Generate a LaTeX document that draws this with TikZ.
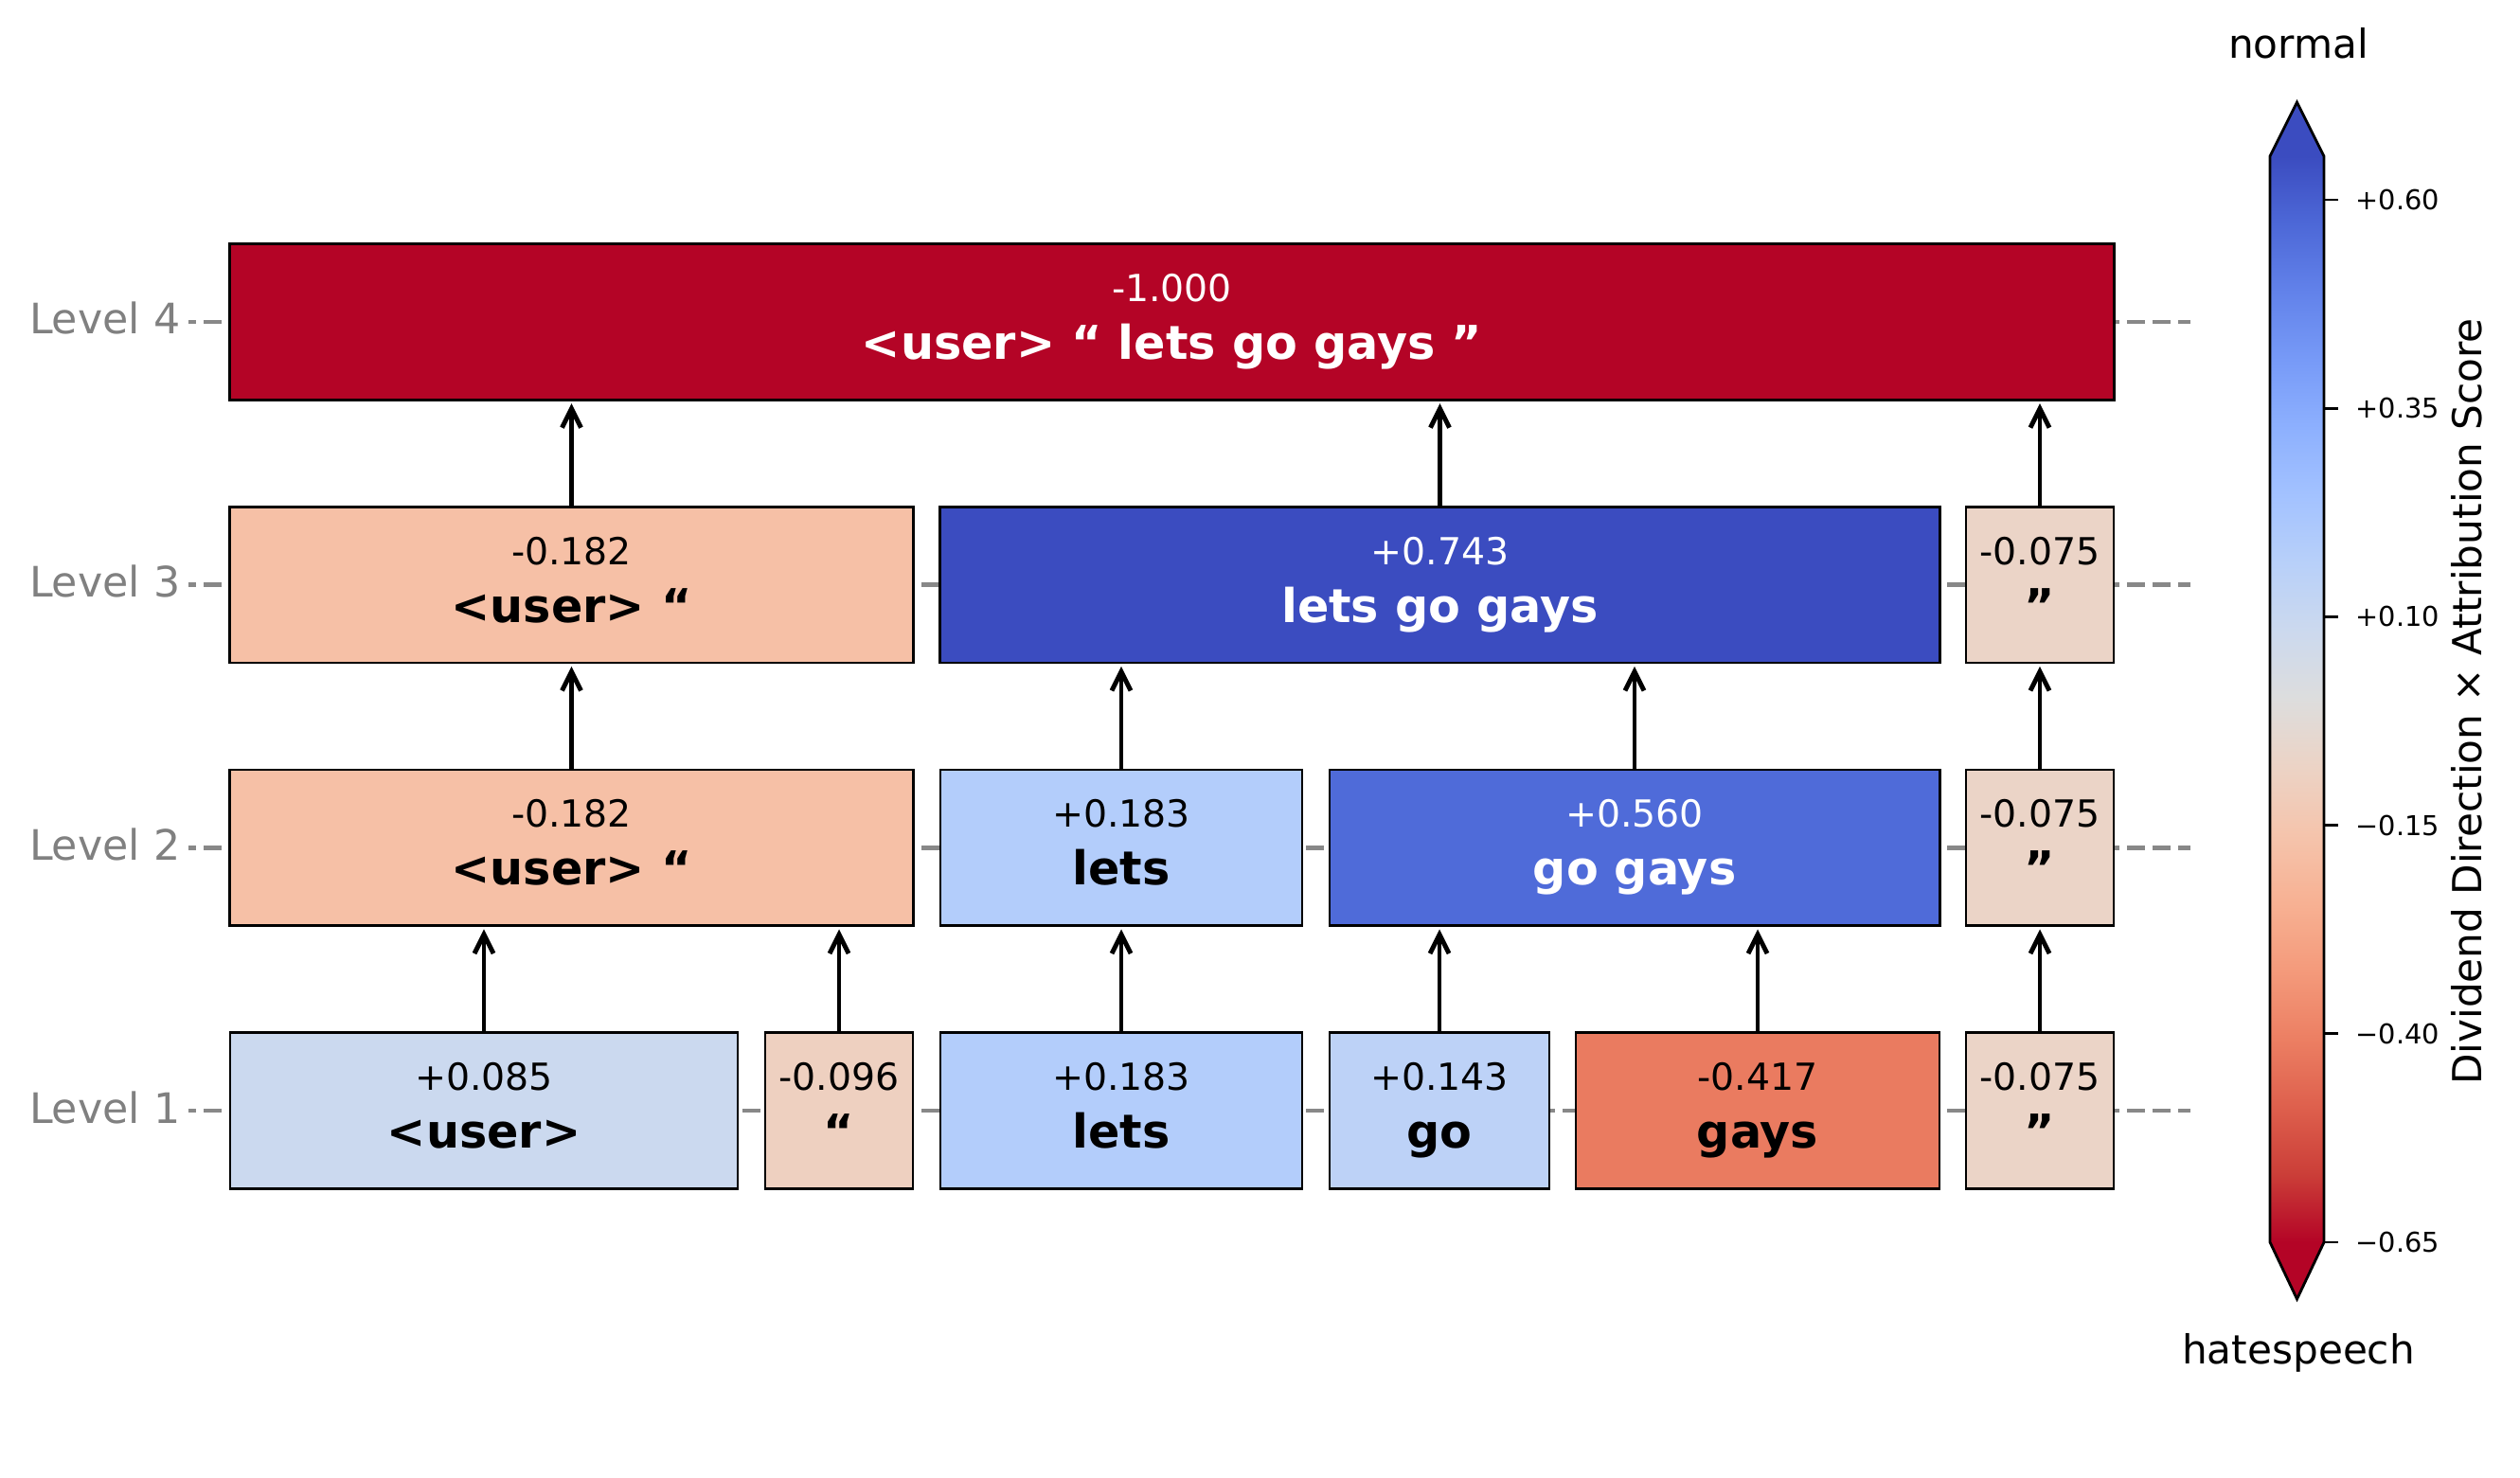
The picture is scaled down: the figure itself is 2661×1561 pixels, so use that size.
\documentclass[tikz,border=0pt]{standalone}
\usepackage{fontspec}
\setmainfont{DejaVu Sans}
\usetikzlibrary{arrows.meta}

\definecolor{lvlgray}{RGB}{128,128,128}
\definecolor{dashgray}{RGB}{136,136,136}
% box colours
\definecolor{cwuser}{RGB}{203,217,239}
\definecolor{cwlq}{RGB}{238,208,192}
\definecolor{cwlets}{RGB}{179,205,251}
\definecolor{cwgo}{RGB}{189,210,247}
\definecolor{cwgays}{RGB}{234,123,96}
\definecolor{cwrq}{RGB}{235,212,199}
\definecolor{cwuserlq}{RGB}{246,192,166}
\definecolor{cwgogays}{RGB}{79,107,217}
\definecolor{cwblue}{RGB}{59,76,192}
\definecolor{cwred}{RGB}{180,4,38}
% colour bar stops, bottom to top
\definecolor{cbar0}{RGB}{180,4,38}
\definecolor{cbar1}{RGB}{203,62,56}
\definecolor{cbar2}{RGB}{222,96,77}
\definecolor{cbar3}{RGB}{236,127,99}
\definecolor{cbar4}{RGB}{244,154,123}
\definecolor{cbar5}{RGB}{247,177,147}
\definecolor{cbar6}{RGB}{245,196,172}
\definecolor{cbar7}{RGB}{236,211,197}
\definecolor{cbar8}{RGB}{221,221,221}
\definecolor{cbar9}{RGB}{204,217,238}
\definecolor{cbar10}{RGB}{184,208,249}
\definecolor{cbar11}{RGB}{163,194,255}
\definecolor{cbar12}{RGB}{141,176,254}
\definecolor{cbar13}{RGB}{119,154,247}
\definecolor{cbar14}{RGB}{98,130,234}
\definecolor{cbar15}{RGB}{77,104,215}
\definecolor{cbar16}{RGB}{59,76,192}

\pgfdeclareverticalshading{cwbar}{100bp}{color(0bp)=(cbar0); color(25bp)=(cbar0);
  color(28.125bp)=(cbar1); color(31.25bp)=(cbar2); color(34.375bp)=(cbar3);
  color(37.5bp)=(cbar4); color(40.625bp)=(cbar5); color(43.75bp)=(cbar6);
  color(46.875bp)=(cbar7); color(50bp)=(cbar8); color(53.125bp)=(cbar9);
  color(56.25bp)=(cbar10); color(59.375bp)=(cbar11); color(62.5bp)=(cbar12);
  color(65.625bp)=(cbar13); color(68.75bp)=(cbar14); color(71.875bp)=(cbar15);
  color(75bp)=(cbar16); color(100bp)=(cbar16)}

\begin{document}
\begin{tikzpicture}[x=0.01cm, y=-0.01cm,
    tokbox/.style={draw=black, line width=0.75pt, inner sep=0pt, outer sep=0pt, minimum height=1.645cm},
    valtxt/.style={font=\fontsize{11.2}{13}\selectfont, anchor=base, inner sep=0pt},
    toktxt/.style={font=\fontsize{14}{17}\selectfont\bfseries, anchor=base, inner sep=0pt},
    lvltxt/.style={font=\fontsize{12.6}{15}\selectfont, text=lvlgray, anchor=base east, inner sep=0pt},
    lvlline/.style={draw=dashgray, line width=1.3pt, dash pattern=on 5.4pt off 2.3pt},
    uparr/.style={-{Straight Barb[length=5.7pt,width=5.7pt]}, line width=1.4pt, shorten >=1.1pt},
    cbtxt/.style={font=\fontsize{8.2}{10}\selectfont, anchor=west, inner sep=0pt}]

  \useasboundingbox (0,0) rectangle (2661,1561);

  % level rows
  \foreach \lv/\yy in {1/1173, 2/895.3, 3/617.7, 4/340} {
    \node[lvltxt] (lvl\lv) at (191,\yy+13) {Level \lv};
    \draw[draw=dashgray, line width=1.3pt] (199,\yy) -- (207,\yy);
    \draw[lvlline] (215,\yy) -- (2313,\yy);
  }

  % boxes
  \foreach \nm/\cx/\cy/\bw/\col/\tc/\val/\tok in {
      l1user/511/1173/5.36/cwuser/black/+0.085/<user>,
      l1lq/886/1173/1.56/cwlq/black/-0.096/“,
      l1lets/1184/1173/3.82/cwlets/black/+0.183/lets,
      l1go/1520/1173/2.32/cwgo/black/+0.143/go,
      l1gays/1856/1173/3.84/cwgays/black/-0.417/gays,
      l1rq/2154/1173/1.56/cwrq/black/-0.075/”,
      l2userlq/603.5/895.3/7.21/cwuserlq/black/-0.182/<user> “,
      l2lets/1184/895.3/3.82/cwlets/black/+0.183/lets,
      l2gogays/1726/895.3/6.44/cwgogays/white/+0.560/go gays,
      l2rq/2154/895.3/1.56/cwrq/black/-0.075/”,
      l3userlq/603.5/617.7/7.21/cwuserlq/black/-0.182/<user> “,
      l3letsgogays/1520.5/617.7/10.55/cwblue/white/+0.743/lets go gays,
      l3rq/2154/617.7/1.56/cwrq/black/-0.075/”,
      l4all/1237.5/340/19.89/cwred/white/-1.000/<user> “ lets go gays ”} {
    \node[tokbox, fill=\col, minimum width=\bw cm] (\nm) at (\cx,\cy) {};
    \node[valtxt, text=\tc] (\nm-v) at ([yshift=6.1pt]\nm.center) {\val};
    \node[toktxt, text=\tc] (\nm-t) at ([yshift=-11.2pt]\nm.center) {\tok};
  }

  % level 1 -> level 2
  \draw[uparr] (l1user.north) -- (l1user.north |- l2userlq.south);
  \draw[uparr] (l1lq.north) -- (l1lq.north |- l2userlq.south);
  \draw[uparr] (l1lets.north) -- (l1lets.north |- l2lets.south);
  \draw[uparr] (l1go.north) -- (l1go.north |- l2gogays.south);
  \draw[uparr] (l1gays.north) -- (l1gays.north |- l2gogays.south);
  \draw[uparr] (l1rq.north) -- (l1rq.north |- l2rq.south);
  % level 2 -> level 3
  \draw[uparr] (l2userlq.north) -- (l2userlq.north |- l3userlq.south);
  \draw[uparr] (l2lets.north) -- (l2lets.north |- l3letsgogays.south);
  \draw[uparr] (l2gogays.north) -- (l2gogays.north |- l3letsgogays.south);
  \draw[uparr] (l2rq.north) -- (l2rq.north |- l3rq.south);
  % level 3 -> level 4
  \draw[uparr] (l3userlq.north) -- (l3userlq.north |- l4all.south);
  \draw[uparr] (l3letsgogays.north) -- (l3letsgogays.north |- l4all.south);
  \draw[uparr] (l3rq.north) -- (l3rq.north |- l4all.south);

  % colour bar
  \shade[shading=cwbar] (2397,165) rectangle (2454,1312);
  \fill[cwblue] (2397,165) -- (2425.5,108) -- (2454,165) -- cycle;
  \fill[cwred] (2397,1312) -- (2425.5,1372) -- (2454,1312) -- cycle;
  \draw[line width=0.8pt] (2397,165) -- (2425.5,108) -- (2454,165) -- (2454,1312)
    -- (2425.5,1372) -- (2397,1312) -- cycle;
  \foreach \yy/\lab [count=\i] in {211/+0.60, 431.2/+0.35, 651.4/+0.10, 871.6/−0.15, 1091.8/−0.40, 1312/−0.65} {
    \draw[line width=0.8pt] (2454,\yy) -- (2469,\yy);
    \node[cbtxt] (cbt\i) at (2487,\yy) {\lab};
  }
  \node[font=\fontsize{12}{14}\selectfont, anchor=base, inner sep=0pt] (cbtop) at (2427,62) {normal};
  \node[font=\fontsize{12}{14}\selectfont, anchor=base, inner sep=0pt] (cbbot) at (2427,1440) {hatespeech};
  \node[font=\fontsize{12}{14}\selectfont, rotate=90, anchor=base, inner sep=0pt] (cblabel) at (2620,741) {Dividend Direction × Attribution Score};
\end{tikzpicture}
\end{document}
